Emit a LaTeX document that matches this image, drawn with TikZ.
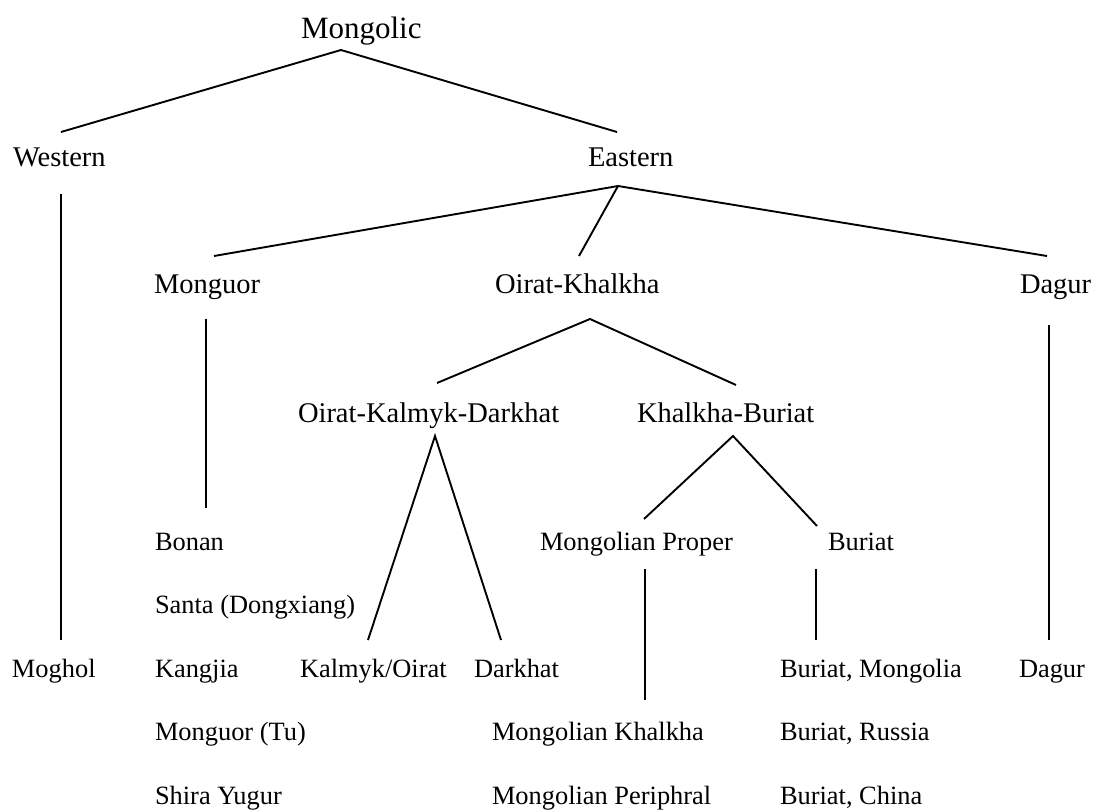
\documentclass[tikz,border=0pt]{standalone}
\usepackage{fontspec}
\setmainfont{Liberation Serif}
\begin{document}
\begin{tikzpicture}[x=1pt,y=-1pt,
  lbl/.style={anchor=base west,inner sep=0pt,outer sep=0pt},
  big/.style={lbl,font=\fontsize{31}{31}\selectfont},
  mid/.style={lbl,font=\fontsize{28.5}{28.5}\selectfont},
  small/.style={lbl,font=\fontsize{26.4}{26.4}\selectfont},
  edge/.style={line width=1.9pt,line cap=butt}]
\useasboundingbox (0,0) rectangle (1096,811);
% labels
\node[big] (mongolic) at (301,38) {Mongolic};
\node[mid] (western) at (13,166) {Western};
\node[mid] (eastern) at (588,166) {Eastern};
\node[mid] (monguor) at (154,293) {Monguor};
\node[mid] (oiratkhalkha) at (495,293) {Oirat-Khalkha};
\node[mid] (dagurtop) at (1020,293) {Dagur};
\node[mid] (okd) at (298,422) {Oirat-Kalmyk-Darkhat};
\node[mid] (khalkhaburiat) at (637,422) {Khalkha-Buriat};
\node[small] (mongproper) at (540,550) {Mongolian Proper};
\node[small] (buriattop) at (828,550) {Buriat};
\node[small] (bonan) at (155,550) {Bonan};
\node[small] (santa) at (155,613.5) {Santa (Dongxiang)};
\node[small] (moghol) at (12,677) {Moghol};
\node[small] (kangjia) at (155,677) {Kangjia};
\node[small] (kalmyk) at (300,677) {Kalmyk/Oirat};
\node[small] (darkhat) at (474,677) {Darkhat};
\node[small] (burmong) at (780,677) {Buriat, Mongolia};
\node[small] (dagurbot) at (1019,677) {Dagur};
\node[small] (monguortu) at (155,740.5) {Monguor (Tu)};
\node[small] (mongkhalkha) at (492,740.5) {Mongolian Khalkha};
\node[small] (burrussia) at (780,740.5) {Buriat, Russia};
\node[small] (shira) at (155,804) {Shira Yugur};
\node[small] (mongperi) at (492,804) {Mongolian Periphral};
\node[small] (burchina) at (780,804) {Buriat, China};
% connector end points
\coordinate (mongolicA) at (341,50);
\coordinate (westernT) at (61,132);
\coordinate (easternT) at (617,132);
\coordinate (westernB) at (61,194);
\coordinate (mogholT) at (61,640);
\coordinate (easternA) at (618,186);
\coordinate (monguorT) at (214,256);
\coordinate (oiratkhalkhaT) at (579,256);
\coordinate (dagurT) at (1047,256);
\coordinate (monguorB) at (206,319);
\coordinate (bonanT) at (206,508);
\coordinate (oiratkhalkhaA) at (590,319);
\coordinate (okdT) at (437,383);
\coordinate (khalkhaburiatT) at (736,385);
\coordinate (dagurB) at (1049,325);
\coordinate (dagurbotT) at (1049,640);
\coordinate (okdA) at (435,436);
\coordinate (kalmykT) at (368,640);
\coordinate (darkhatT) at (501,640);
\coordinate (khalkhaburiatA) at (733,436);
\coordinate (mongproperT) at (644,519);
\coordinate (buriattopT) at (817,526);
\coordinate (mongproperB) at (645,569);
\coordinate (mongkhalkhaT) at (645,700);
\coordinate (buriattopB) at (816,569);
\coordinate (burmongT) at (816,640);
% connectors
\draw[edge] (westernT) -- (mongolicA) -- (easternT);
\draw[edge] (westernB) -- (mogholT);
\draw[edge] (monguorT) -- (easternA) -- (dagurT);
\draw[edge] (easternA) -- (oiratkhalkhaT);
\draw[edge] (monguorB) -- (bonanT);
\draw[edge] (okdT) -- (oiratkhalkhaA) -- (khalkhaburiatT);
\draw[edge] (dagurB) -- (dagurbotT);
\draw[edge] (kalmykT) -- (okdA) -- (darkhatT);
\draw[edge] (mongproperT) -- (khalkhaburiatA) -- (buriattopT);
\draw[edge] (mongproperB) -- (mongkhalkhaT);
\draw[edge] (buriattopB) -- (burmongT);
\end{tikzpicture}
\end{document}
